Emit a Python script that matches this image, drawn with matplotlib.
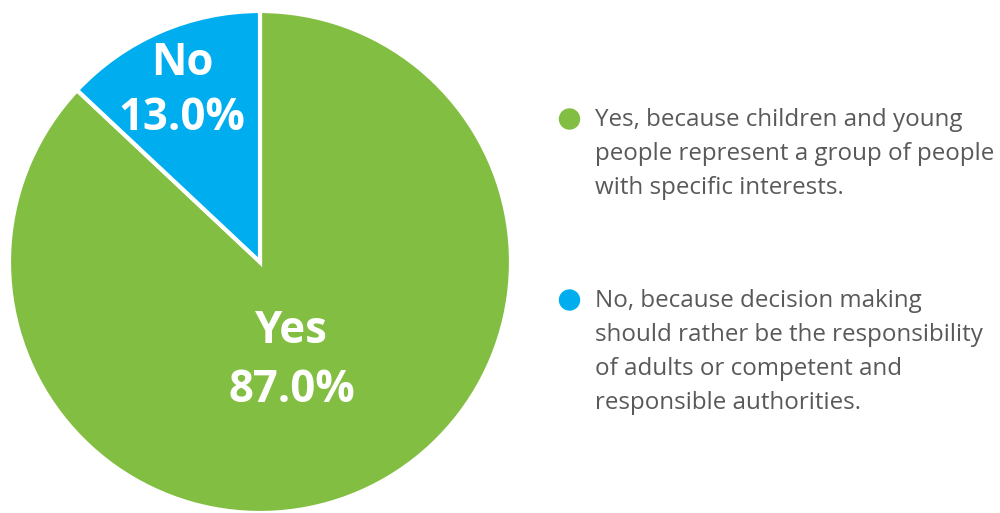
import matplotlib.pyplot as plt
from matplotlib.patches import Ellipse

# Survey answers
answers = ['Yes', 'No']
shares = [87.0, 13.0]
legend_labels = [
    'Yes, because children and young\npeople represent a group of people\nwith specific interests.',
    'No, because decision making\nshould rather be the responsibility\nof adults or competent and\nresponsible authorities.',
]
colors = ['#82BE41', '#00AEEF']

plt.rcParams['font.family'] = ['Open Sans', 'DejaVu Sans']

W, H = 1000, 513
fig = plt.figure(figsize=(W / 100, H / 100), dpi=100)

# pie axes: square on the left, radius ~251 px
ax = fig.add_axes([9 / W, 0 / H, 502 / W, 502 / H])
wedges, _ = ax.pie(shares, colors=colors, startangle=90, counterclock=False,
                   radius=1.0, wedgeprops=dict(edgecolor='white', linewidth=3))
ax.set_xlim(-1, 1)
ax.set_ylim(-1, 1)
ax.set_aspect('equal')
ax.axis('off')

# in-slice labels: (x, name baseline, value baseline)
label_pos = {'Yes': (0.125, -0.323, -0.558), 'No': (-0.31, 0.745, 0.526)}
for name, val in zip(answers, shares):
    x, y_name, y_val = label_pos[name]
    ax.text(x, y_name, name, ha='center', va='baseline', color='white',
            fontsize=31.5, fontweight='bold')
    ax.text(x, y_val, f'{val:.1f}%', ha='center', va='baseline',
            color='white', fontsize=31.5, fontweight='bold')

# legend drawn by hand: dot + wrapped text
first_baseline = [126, 307]
line_step = 34
dot_d = 20
for lab, col, y0 in zip(legend_labels, colors, first_baseline):
    fig.patches.append(Ellipse((569.5 / W, 1 - (y0 - 7) / H),
                               width=dot_d / W, height=dot_d / H,
                               transform=fig.transFigure, color=col))
    for i, line in enumerate(lab.split('\n')):
        fig.text(595 / W, 1 - (y0 + i * line_step) / H, line, ha='left',
                 va='baseline', fontsize=17.4, color='#595959')

fig.savefig('out.png', dpi=100)
